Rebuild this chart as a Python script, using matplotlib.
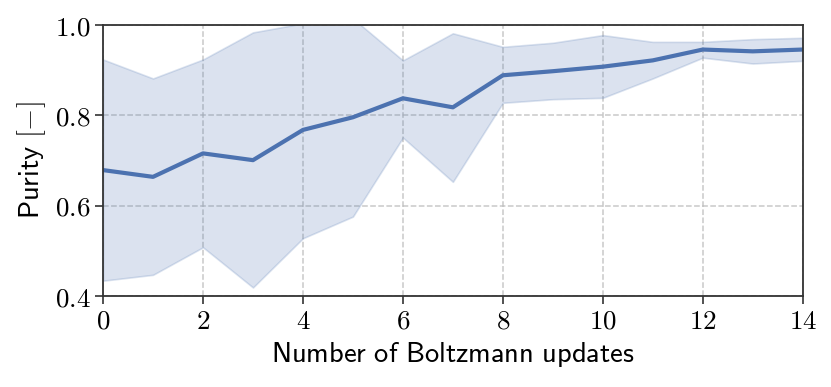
import matplotlib
matplotlib.use("Agg")
import matplotlib.pyplot as plt
import numpy as np

# --- data ---
updates = [0, 1, 2, 3, 4, 5, 6, 7, 8, 9, 10, 11, 12, 13, 14]
purity_mean = [0.679, 0.664, 0.716, 0.701, 0.768, 0.796, 0.838, 0.818,
               0.889, 0.898, 0.908, 0.922, 0.946, 0.942, 0.946]
purity_upper = [0.924, 0.882, 0.924, 0.984, 1.004, 1.015, 0.922, 0.982,
                0.952, 0.961, 0.978, 0.963, 0.963, 0.969, 0.972]
purity_lower = [0.434, 0.447, 0.508, 0.419, 0.528, 0.576, 0.751, 0.653,
                0.828, 0.836, 0.839, 0.882, 0.928, 0.915, 0.921]
xticks = [0, 2, 4, 6, 8, 10, 12, 14]
yticks = [0.4, 0.6, 0.8, 1.0]

plt.rcParams['mathtext.fontset'] = 'cm'

color = '#4C72B0'

fig = plt.figure(figsize=(8.31, 3.87), dpi=100)
ax = fig.add_axes([0.124, 0.235, 0.842, 0.700])

ax.fill_between(updates, purity_lower, purity_upper, color=color, alpha=0.2,
                linewidth=1.2, edgecolor=(0.30, 0.45, 0.69, 0.25))
ax.plot(updates, purity_mean, color=color, linewidth=3)

ax.set_xlim(0, 14)
ax.set_ylim(0.4, 1.0)
ax.set_xticks(xticks)
ax.set_yticks(yticks)
ax.set_xticklabels([f'${t}$' for t in xticks], fontsize=19.5)
ax.set_yticklabels([f'${t:.1f}$' for t in yticks], fontsize=19.5)

ax.grid(True, linestyle='--', color='#bbbbbb', linewidth=1.1, alpha=0.8)
ax.set_axisbelow(True)
for s in ax.spines.values():
    s.set_color('#333333')
    s.set_linewidth(1.3)
ax.tick_params(direction='out', length=6, width=1.2, color='#333333', pad=3)

ax.set_xlabel(r'$\mathsf{Number\ of\ Boltzmann\ updates}$', fontsize=20.5, labelpad=4)
ax.set_ylabel(r'$\mathsf{Purity}\ [-]$', fontsize=20.5, labelpad=5)

fig.savefig('out.png', dpi=100)
